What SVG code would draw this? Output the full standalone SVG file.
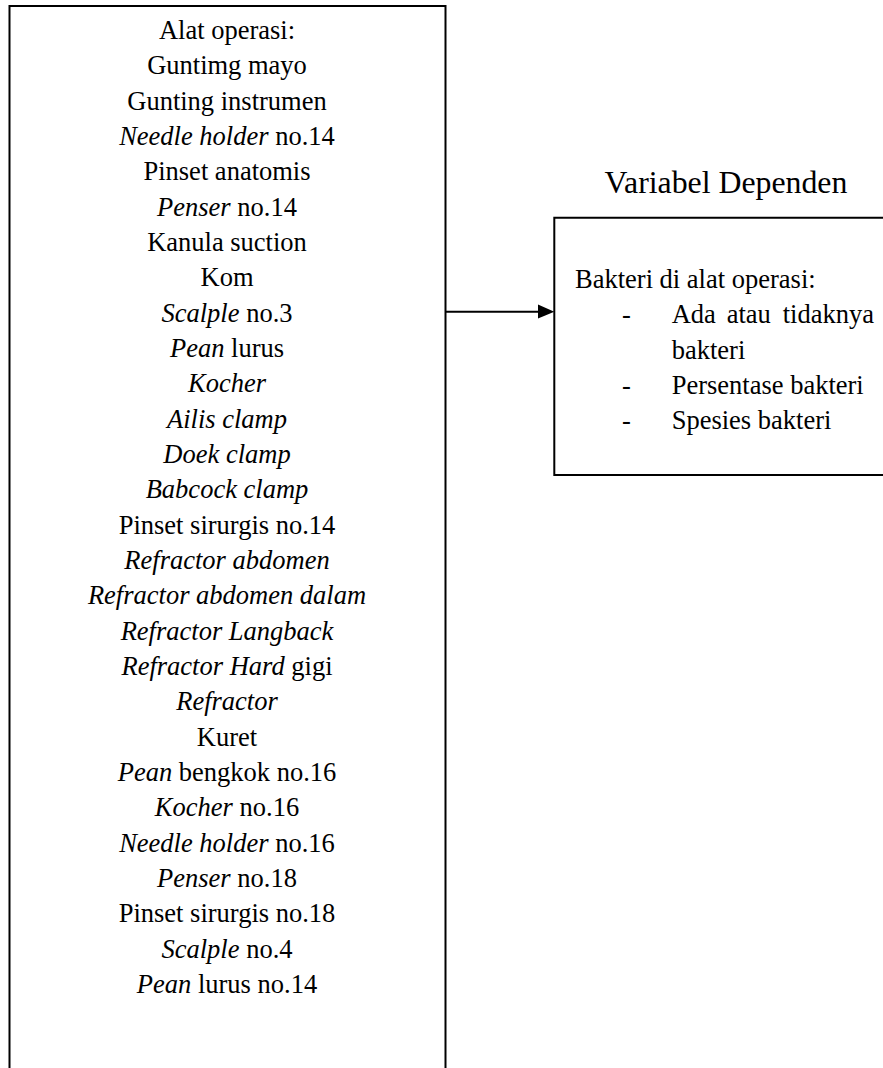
<svg xmlns="http://www.w3.org/2000/svg" width="883" height="1068" viewBox="0 0 883 1068">
<style>
.t{font-family:"Liberation Serif","Times New Roman",serif;font-size:26.5px;fill:#000}
.c{text-anchor:middle}
.i{font-style:italic}
.box{fill:none;stroke:#000;stroke-width:2}
</style>
<rect width="883" height="1068" fill="#fff"/>
<g id="node-alat">
<path class="box" d="M9.5,1070 V6 H445.5 V1070"/>
<text class="t c" x="227" y="39">Alat operasi:</text>
<text class="t c" x="227" y="74.3">Guntimg mayo</text>
<text class="t c" x="227" y="109.7">Gunting instrumen</text>
<text class="t c" x="227" y="145"><tspan class="i">Needle holder</tspan> no.14</text>
<text class="t c" x="227" y="180.3">Pinset anatomis</text>
<text class="t c" x="227" y="215.7"><tspan class="i">Penser</tspan> no.14</text>
<text class="t c" x="227" y="251">Kanula suction</text>
<text class="t c" x="227" y="286.3">Kom</text>
<text class="t c" x="227" y="321.6"><tspan class="i">Scalple</tspan> no.3</text>
<text class="t c" x="227" y="357"><tspan class="i">Pean</tspan> lurus</text>
<text class="t c i" x="227" y="392.3">Kocher</text>
<text class="t c i" x="227" y="427.6">Ailis clamp</text>
<text class="t c i" x="227" y="463">Doek clamp</text>
<text class="t c i" x="227" y="498.3">Babcock clamp</text>
<text class="t c" x="227" y="533.6">Pinset sirurgis no.14</text>
<text class="t c i" x="227" y="569">Refractor abdomen</text>
<text class="t c i" x="227" y="604.3">Refractor abdomen dalam</text>
<text class="t c i" x="227" y="639.6">Refractor Langback</text>
<text class="t c" x="227" y="675"><tspan class="i">Refractor Hard</tspan> gigi</text>
<text class="t c i" x="227" y="710.3">Refractor</text>
<text class="t c" x="227" y="745.6">Kuret</text>
<text class="t c" x="227" y="781"><tspan class="i">Pean</tspan> bengkok no.16</text>
<text class="t c" x="227" y="816.3"><tspan class="i">Kocher</tspan> no.16</text>
<text class="t c" x="227" y="851.6"><tspan class="i">Needle holder</tspan> no.16</text>
<text class="t c" x="227" y="887"><tspan class="i">Penser</tspan> no.18</text>
<text class="t c" x="227" y="922.3">Pinset sirurgis no.18</text>
<text class="t c" x="227" y="957.6"><tspan class="i">Scalple</tspan> no.4</text>
<text class="t c" x="227" y="993"><tspan class="i">Pean</tspan> lurus no.14</text>
</g>
<g id="node-dependen">
<text class="t c" x="726" y="193" style="font-size:31.8px">Variabel Dependen</text>
<path class="box" d="M890,217.7 H554.3 V475 H890"/>
<text class="t" x="575" y="288">Bakteri di alat operasi:</text>
<text class="t" x="622" y="323.3">-</text>
<text class="t" x="671.7" y="323.3">Ada</text>
<text class="t" x="726.7" y="323.3">atau</text>
<text class="t" x="874" y="323.3" text-anchor="end">tidaknya</text>
<text class="t" x="671.7" y="358.6">bakteri</text>
<text class="t" x="622" y="394">-</text>
<text class="t" x="671.7" y="394">Persentase bakteri</text>
<text class="t" x="622" y="429.3">-</text>
<text class="t" x="671.7" y="429.3">Spesies bakteri</text>
</g>
<g id="connectors">
<line x1="445.5" y1="311.7" x2="540" y2="311.7" stroke="#000" stroke-width="2"/>
<polygon points="538,304.5 554.3,311.7 538,318.5" fill="#000"/>
</g>
</svg>
